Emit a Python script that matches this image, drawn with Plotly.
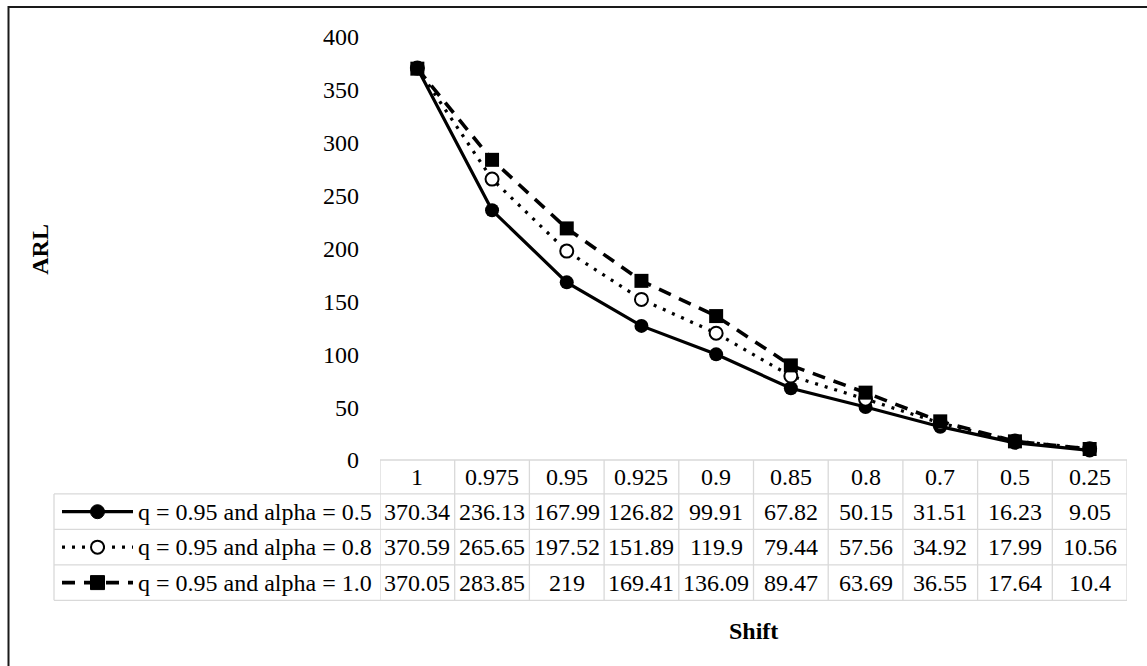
import plotly.graph_objects as go

# ARL values for each shift level
shifts = ["1", "0.975", "0.95", "0.925", "0.9", "0.85", "0.8", "0.7", "0.5", "0.25"]
series_names = [
    "q = 0.95 and alpha = 0.5",
    "q = 0.95 and alpha = 0.8",
    "q = 0.95 and alpha = 1.0",
]
arl_a05 = [370.34, 236.13, 167.99, 126.82, 99.91, 67.82, 50.15, 31.51, 16.23, 9.05]
arl_a08 = [370.59, 265.65, 197.52, 151.89, 119.9, 79.44, 57.56, 34.92, 17.99, 10.56]
arl_a10 = [370.05, 283.85, 219, 169.41, 136.09, 89.47, 63.69, 36.55, 17.64, 10.4]
arl_series = [arl_a05, arl_a08, arl_a10]
y_ticks = [0, 50, 100, 150, 200, 250, 300, 350, 400]

FONT = "Liberation Serif"
FS = 24
W, H = 1147, 666
L, R, T, B = 380, 20, 37, 205.5
PW, PH = W - L - R, H - T - B

# line / marker styles per series
styles = [
    dict(dash="solid", width=3.2, symbol="circle", msize=14, mfill="black", mline=0),
    dict(dash="3px,7px", width=3.2, symbol="circle", msize=13, mfill="white", mline=2),
    dict(dash="13px,9px", width=3.6, symbol="square", msize=14, mfill="black", mline=0),
]

fig = go.Figure()
for name, vals, st in zip(series_names, arl_series, styles):
    fig.add_trace(go.Scatter(
        x=list(range(len(shifts))), y=vals, name=name, mode="lines+markers",
        line=dict(color="black", width=st["width"], dash=st["dash"]),
        marker=dict(symbol=st["symbol"], size=st["msize"], color=st["mfill"],
                    line=dict(color="black", width=st["mline"])),
        showlegend=False, cliponaxis=False,
    ))


def px_to_px(px):
    return (px - L) / PW


def py_to_py(py):
    return (H - B - py) / PH


shapes = []
annotations = []
grid = dict(color="#d9d9d9", width=1.3)

# data table geometry (pixel rows)
row_edges = [460.5, 494.5, 530, 565.5, 601]
legend_left = 54
n = len(shifts)

# horizontal lines
shapes.append(dict(type="line", xref="x", yref="paper", x0=-0.5, x1=n - 0.5,
                   y0=py_to_py(row_edges[0]), y1=py_to_py(row_edges[0]), line=grid))
for ry in row_edges[1:]:
    shapes.append(dict(type="line", xref="paper", yref="paper",
                       x0=px_to_px(legend_left), x1=1.0,
                       y0=py_to_py(ry), y1=py_to_py(ry), line=grid))
# vertical lines
for i in range(n + 1):
    shapes.append(dict(type="line", xref="x", yref="paper", x0=i - 0.5, x1=i - 0.5,
                       y0=py_to_py(row_edges[0]), y1=py_to_py(row_edges[-1]), line=grid))
shapes.append(dict(type="line", xref="paper", yref="paper",
                   x0=px_to_px(legend_left), x1=px_to_px(legend_left),
                   y0=py_to_py(row_edges[1]), y1=py_to_py(row_edges[-1]), line=grid))

# header cells
hy = (row_edges[0] + row_edges[1]) / 2
for i, s in enumerate(shifts):
    annotations.append(dict(x=i, y=py_to_py(hy), xref="x", yref="paper", text=s,
                            showarrow=False, font=dict(family=FONT, size=FS, color="black"),
                            xanchor="center", yanchor="middle"))


def fmt(v):
    return ("%.2f" % v).rstrip("0").rstrip(".")


# value rows with legend keys
for r, (name, vals, st) in enumerate(zip(series_names, arl_series, styles)):
    cy = (row_edges[r + 1] + row_edges[r + 2]) / 2
    for i, v in enumerate(vals):
        annotations.append(dict(x=i, y=py_to_py(cy), xref="x", yref="paper", text=fmt(v),
                                showarrow=False,
                                font=dict(family=FONT, size=FS, color="black"),
                                xanchor="center", yanchor="middle"))
    annotations.append(dict(x=px_to_px(136), y=py_to_py(cy), xref="paper", yref="paper",
                            text=name, showarrow=False,
                            font=dict(family=FONT, size=FS, color="black"),
                            xanchor="left", yanchor="middle"))
    # legend key line
    shapes.append(dict(type="line", xref="paper", yref="paper",
                       x0=px_to_px(62), x1=px_to_px(133),
                       y0=py_to_py(cy), y1=py_to_py(cy),
                       line=dict(color="black", width=st["width"], dash=st["dash"])))
    mx, r_ = 97.5, st["msize"] / 2
    if st["symbol"] == "circle":
        shapes.append(dict(type="circle", xref="paper", yref="paper",
                           x0=px_to_px(mx - r_), x1=px_to_px(mx + r_),
                           y0=py_to_py(cy + r_), y1=py_to_py(cy - r_),
                           fillcolor=st["mfill"],
                           line=dict(color="black", width=max(st["mline"], 1))))
    else:
        shapes.append(dict(type="rect", xref="paper", yref="paper",
                           x0=px_to_px(mx - r_), x1=px_to_px(mx + r_),
                           y0=py_to_py(cy + r_), y1=py_to_py(cy - r_),
                           fillcolor=st["mfill"], line=dict(color="black", width=1)))

# outer chart border
shapes.append(dict(type="rect", xref="paper", yref="paper",
                   x0=px_to_px(8.5), x1=px_to_px(W + 20),
                   y0=py_to_py(H + 20), y1=py_to_py(7),
                   line=dict(color="#1a1a1a", width=2), fillcolor="rgba(0,0,0,0)"))

# axis titles
annotations.append(dict(x=px_to_px(40), y=py_to_py(250), xref="paper", yref="paper",
                        text="<b>ARL</b>", textangle=-90, showarrow=False,
                        font=dict(family=FONT, size=FS, color="black"),
                        xanchor="center", yanchor="middle"))
annotations.append(dict(x=0.5, y=py_to_py(632), xref="paper", yref="paper",
                        text="<b>Shift</b>", showarrow=False,
                        font=dict(family=FONT, size=FS, color="black"),
                        xanchor="center", yanchor="middle"))

fig.update_layout(
    width=W, height=H,
    margin=dict(l=L, r=R, t=T, b=B, pad=0),
    paper_bgcolor="white", plot_bgcolor="white",
    shapes=shapes, annotations=annotations,
    xaxis=dict(range=[-0.5, n - 0.5], showticklabels=False, showgrid=False,
               zeroline=False, showline=False, ticks=""),
    yaxis=dict(range=[0, 400], tickvals=y_ticks, showgrid=False, zeroline=False,
               showline=False, ticks="", ticklabelstandoff=20,
               tickfont=dict(family=FONT, size=FS, color="black")),
    font=dict(family=FONT, color="black"),
)

fig.write_html("out.html")
